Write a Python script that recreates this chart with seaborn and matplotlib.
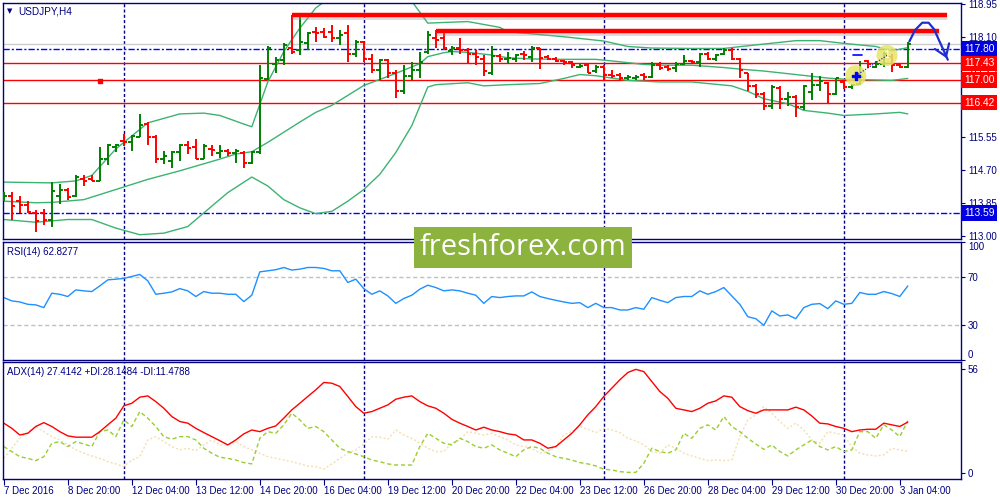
import numpy as np
import pandas as pd
import matplotlib
matplotlib.use("Agg")
import matplotlib.pyplot as plt
import matplotlib.transforms as mtransforms
from matplotlib.patches import Rectangle
import seaborn as sns

sns.set_style("white")
plt.rcParams['font.family'] = ['Liberation Sans', 'DejaVu Sans']

# USDJPY H4 bars (7 Dec 2016 - 3 Jan 2017)
opens = [113.93, 114.02, 113.89, 113.80, 113.59, 113.59, 113.42, 114.02, 114.19, 114.02,
         114.45, 114.45, 114.42, 114.97, 115.27, 115.44, 115.42, 115.55, 115.87, 115.55,
         114.98, 114.92, 115.14, 115.34, 115.27, 114.98, 115.24, 115.12, 115.18, 115.12,
         115.12, 114.88, 115.14, 117.02, 117.42, 117.51, 117.81, 117.77, 117.94, 118.24,
         118.24, 118.24, 118.07, 118.20, 117.68, 117.98, 117.55, 117.25, 117.51, 117.19,
         116.73, 117.11, 117.25, 117.73, 118.07, 118.07, 117.74, 117.81, 117.77, 117.68,
         117.55, 117.17, 117.62, 117.54, 117.55, 117.68, 117.60, 117.83, 117.60, 117.55,
         117.48, 117.45, 117.34, 117.38, 117.23, 117.34, 117.14, 117.12, 117.04, 117.04,
         117.14, 117.08, 117.38, 117.34, 117.30, 117.42, 117.48, 117.45, 117.66, 117.55,
         117.68, 117.77, 117.54, 117.17, 116.85, 116.65, 116.33, 116.80, 116.52, 116.56,
         116.30, 116.69, 116.88, 116.93, 116.65, 116.95, 116.82, 116.91, 117.48, 117.34,
         117.42, 117.60, 117.38, 117.34]
highs = [114.12, 114.12, 114.02, 113.89, 113.67, 113.69, 114.38, 114.32, 114.23, 114.56,
         114.56, 114.55, 115.29, 115.37, 115.37, 115.61, 115.59, 116.13, 115.93, 115.60,
         115.18, 115.18, 115.36, 115.44, 115.48, 115.36, 115.33, 115.33, 115.23, 115.23,
         115.18, 115.18, 117.38, 117.86, 117.60, 117.94, 118.67, 118.61, 118.24, 118.37,
         118.33, 118.42, 118.29, 118.42, 118.03, 117.98, 117.68, 117.55, 117.55, 117.25,
         117.38, 117.45, 117.73, 118.26, 118.29, 118.20, 117.86, 118.07, 117.81, 117.77,
         117.64, 117.86, 117.68, 117.73, 117.68, 117.74, 117.87, 117.83, 117.64, 117.60,
         117.51, 117.48, 117.42, 117.42, 117.38, 117.38, 117.25, 117.19, 117.14, 117.12,
         117.19, 117.47, 117.45, 117.38, 117.45, 117.64, 117.51, 117.70, 117.73, 117.68,
         117.81, 117.81, 117.57, 117.19, 116.91, 116.69, 116.88, 116.85, 116.69, 116.61,
         116.88, 117.19, 117.11, 116.95, 117.05, 116.99, 116.91, 117.48, 117.51, 117.48,
         117.73, 117.68, 117.40, 117.98]
lows = [113.89, 113.42, 113.59, 113.59, 113.11, 113.29, 113.24, 113.83, 113.93, 114.00,
        114.28, 114.41, 114.41, 114.82, 115.16, 115.31, 115.17, 115.53, 115.34, 114.86,
        114.84, 114.73, 114.91, 115.10, 114.97, 114.97, 115.05, 115.01, 115.05, 114.86,
        114.75, 114.84, 115.10, 116.99, 117.19, 117.38, 117.66, 117.64, 117.77, 117.98,
        118.07, 117.98, 117.90, 117.47, 117.60, 117.47, 117.17, 116.99, 117.04, 116.54,
        116.65, 116.99, 117.04, 117.68, 117.81, 117.77, 117.64, 117.68, 117.42, 117.38,
        117.11, 117.12, 117.45, 117.42, 117.47, 117.51, 117.47, 117.27, 117.51, 117.45,
        117.38, 117.30, 117.30, 117.17, 117.19, 116.99, 117.04, 116.99, 116.99, 116.99,
        116.99, 117.04, 117.25, 117.23, 117.21, 117.38, 117.40, 117.34, 117.51, 117.48,
        117.64, 117.51, 117.05, 116.71, 116.54, 116.22, 116.26, 116.26, 116.33, 116.05,
        116.22, 116.48, 116.73, 116.42, 116.61, 116.76, 116.78, 116.88, 117.30, 117.30,
        117.34, 117.21, 117.30, 117.32]
closes = [114.02, 113.76, 113.78, 113.61, 113.37, 113.42, 114.15, 114.17, 114.00, 114.52,
          114.41, 114.42, 114.97, 115.34, 115.34, 115.40, 115.57, 115.85, 115.55, 114.98,
          115.05, 115.14, 115.34, 115.25, 114.98, 115.31, 115.21, 115.18, 115.12, 115.18,
          114.88, 115.16, 117.04, 117.81, 117.51, 117.90, 117.73, 117.97, 118.20, 118.20,
          118.10, 118.07, 118.16, 117.68, 117.98, 117.55, 117.25, 117.51, 117.19, 116.73,
          117.11, 117.25, 117.47, 118.16, 118.03, 117.81, 117.83, 117.77, 117.68, 117.60,
          117.23, 117.62, 117.55, 117.57, 117.64, 117.64, 117.83, 117.57, 117.55, 117.48,
          117.45, 117.38, 117.36, 117.19, 117.34, 117.12, 117.11, 117.05, 117.08, 117.08,
          117.08, 117.38, 117.30, 117.28, 117.40, 117.48, 117.45, 117.66, 117.55, 117.64,
          117.77, 117.55, 117.25, 116.85, 116.65, 116.33, 116.82, 116.52, 116.56, 116.30,
          116.85, 116.88, 116.97, 116.65, 117.04, 116.82, 116.88, 117.08, 117.40, 117.42,
          117.68, 117.38, 117.34, 117.92]

# Bollinger bands read at selected bars
bb_up_idx = [0, 6, 9, 11, 14, 18, 22, 25, 27, 30, 31, 33, 35, 37, 39, 41, 44, 47, 51, 53,
             58, 62, 63, 70, 75, 78, 81, 86, 90, 94, 99, 102, 105, 109, 111, 113]
bb_up = [114.38, 114.36, 114.41, 114.55, 115.23, 115.90, 116.13, 116.15, 116.09, 115.87,
         115.80, 116.95, 117.73, 118.33, 118.85, 119.15, 119.50, 119.40, 119.02, 118.46,
         118.50, 118.35, 118.24, 118.11, 118.00, 117.86, 117.82, 117.81, 117.81, 117.90,
         118.01, 118.01, 117.94, 117.86, 117.75, 117.83]
bb_mid_idx = [0, 4, 6, 10, 14, 18, 22, 27, 29, 31, 33, 35, 37, 39, 41, 45, 49, 52, 53, 55,
              56, 58, 61, 63, 66, 70, 74, 76, 80, 82, 86, 90, 92, 95, 99, 103, 105, 111, 113]
bb_mid = [113.89, 113.85, 113.86, 113.93, 114.19, 114.45, 114.67, 114.97, 115.10, 115.16,
          115.40, 115.66, 115.92, 116.17, 116.35, 116.86, 117.17, 117.42, 117.60, 117.70,
          117.73, 117.71, 117.64, 117.57, 117.54, 117.53, 117.53, 117.49, 117.40, 117.38,
          117.38, 117.32, 117.28, 117.23, 117.14, 117.05, 117.02, 116.99, 117.04]
bb_low_idx = [0, 4, 8, 11, 14, 17, 20, 23, 25, 28, 31, 33, 35, 37, 39, 41, 43, 45, 47, 49,
              51, 53, 54, 58, 60, 63, 67, 70, 72, 74, 78, 82, 86, 91, 93, 95, 98, 100, 103, 105,
              109, 112, 113]
bb_low = [113.42, 113.35, 113.42, 113.42, 113.20, 113.03, 113.07, 113.24, 113.59, 114.11,
          114.51, 114.28, 113.93, 113.72, 113.57, 113.63, 113.89, 114.19, 114.58, 115.14,
          115.83, 116.82, 116.88, 116.93, 116.85, 116.88, 116.91, 117.04, 117.14, 117.11,
          116.99, 116.95, 116.95, 116.85, 116.71, 116.52, 116.39, 116.22, 116.15, 116.09,
          116.13, 116.17, 116.13]

rsi = [52.9, 50.1, 49.2, 47.2, 46.7, 44.4, 56.6, 55.7, 53.8, 59.4, 58.6, 58.0, 62.8, 67.9,
       68.5, 69.1, 70.8, 72.5, 67.1, 55.7, 56.6, 57.7, 60.5, 58.6, 53.8, 58.0, 56.6, 56.6,
       55.7, 55.7, 49.5, 54.9, 74.7, 75.6, 76.5, 78.4, 76.2, 77.0, 78.4, 78.4, 77.6, 75.6,
       75.6, 65.7, 68.5, 60.5, 55.7, 58.6, 54.3, 48.0, 52.1, 54.9, 60.0, 63.4, 61.4, 58.6,
       59.4, 58.6, 56.6, 54.9, 48.0, 53.8, 52.9, 53.8, 54.3, 54.3, 57.7, 53.8, 52.1, 50.6,
       49.2, 48.0, 48.6, 44.4, 48.0, 44.4, 44.4, 42.4, 42.4, 44.4, 43.0, 52.9, 50.6, 48.6,
       52.9, 53.8, 53.8, 58.6, 55.7, 58.0, 61.4, 54.3, 47.2, 36.7, 35.0, 29.4, 41.6, 37.3,
       38.2, 35.0, 44.4, 47.2, 47.8, 43.5, 50.1, 47.2, 48.0, 57.2, 55.7, 55.7, 58.0, 56.3,
       53.8, 62.8]

adx = [26.8, 24.0, 20.4, 21.3, 25.0, 27.1, 25.0, 22.2, 19.9, 19.2, 19.2, 19.2, 22.2, 25.9,
       29.5, 36.2, 37.6, 40.9, 41.6, 38.5, 34.9, 30.4, 27.7, 26.8, 24.0, 21.7, 19.5, 17.3,
       15.0, 17.7, 21.0, 23.1, 22.2, 24.0, 25.3, 29.5, 34.0, 37.6, 41.3, 44.9, 48.9, 48.5,
       46.7, 41.3, 35.8, 32.2, 33.1, 34.9, 36.7, 39.8, 40.9, 41.6, 38.5, 36.2, 34.9, 32.2,
       28.9, 26.8, 25.0, 23.1, 24.6, 23.1, 22.2, 21.0, 20.4, 17.7, 17.7, 15.9, 13.2, 14.1,
       17.7, 21.3, 25.9, 31.3, 35.8, 41.3, 45.8, 50.3, 54.3, 56.0, 54.8, 49.4, 44.0, 40.3,
       34.9, 34.0, 33.1, 34.9, 37.6, 38.9, 41.6, 40.9, 35.8, 33.6, 32.2, 34.0, 34.0, 34.0,
       34.0, 35.5, 34.0, 30.7, 26.8, 26.4, 25.0, 24.0, 22.2, 23.1, 23.5, 23.5, 26.8, 25.9,
       25.0, 27.4]
plus_di = [14.1, 11.4, 8.6, 7.7, 6.5, 8.6, 15.9, 16.8, 14.1, 16.8, 15.5, 14.1, 22.2, 23.1,
           19.5, 28.6, 25.0, 33.1, 29.5, 25.0, 19.5, 18.1, 19.5, 19.5, 17.7, 13.2, 10.5, 8.3,
           7.7, 6.8, 5.4, 4.7, 18.6, 22.2, 21.3, 25.9, 32.2, 28.6, 24.0, 25.0, 22.2, 17.7,
           13.2, 11.4, 10.1, 8.6, 6.8, 5.9, 4.7, 4.1, 4.1, 4.1, 14.1, 21.3, 18.6, 15.9,
           15.0, 18.6, 16.8, 14.1, 13.2, 15.0, 12.3, 10.5, 8.6, 12.3, 14.1, 13.2, 10.5, 8.6,
           7.7, 6.8, 5.4, 4.7, 3.6, 1.8, 1.4, 0.5, 0.1, 0.1, 5.0, 13.2, 11.4, 10.5,
           12.3, 21.3, 18.6, 24.0, 25.9, 23.1, 30.4, 25.0, 22.2, 18.6, 15.5, 12.6, 15.0, 11.4,
           9.0, 12.3, 15.0, 17.7, 14.1, 12.3, 14.1, 11.4, 12.3, 22.2, 22.2, 18.6, 25.9, 23.1,
           19.5, 28.1]
minus_di = [7.7, 13.2, 18.6, 22.2, 25.0, 22.2, 19.5, 17.7, 15.0, 12.3, 10.5, 9.0, 7.7, 5.9,
            4.7, 3.2, 6.8, 8.6, 17.7, 19.5, 16.8, 14.1, 12.3, 13.2, 11.9, 15.0, 17.7, 15.0,
            15.0, 16.8, 14.1, 12.3, 10.5, 8.6, 7.7, 6.8, 5.9, 4.7, 3.6, 3.2, 1.8, 4.7,
            7.7, 10.5, 12.3, 15.5, 19.5, 19.2, 18.1, 23.1, 20.4, 18.6, 15.9, 13.2, 11.4, 11.4,
            15.9, 17.7, 22.2, 21.3, 20.4, 21.3, 19.5, 17.7, 15.0, 14.1, 13.2, 10.5, 11.4, 14.1,
            20.4, 22.2, 25.0, 23.5, 21.7, 24.0, 23.1, 21.7, 18.6, 17.2, 15.0, 11.4, 10.5, 15.0,
            13.2, 10.5, 9.0, 7.7, 6.5, 6.8, 6.5, 6.8, 19.5, 28.6, 31.3, 35.8, 32.2, 27.7,
            24.0, 26.8, 23.1, 17.7, 15.9, 22.2, 21.3, 20.4, 14.1, 10.5, 9.6, 9.0, 9.6, 13.2,
            12.3, 11.5]

tick_bars = [0, 8, 16, 24, 32, 40, 48, 56, 64, 72, 80, 88, 96, 104, 112]
tick_labels = ["7 Dec 2016", "8 Dec 20:00", "12 Dec 04:00", "13 Dec 12:00", "14 Dec 20:00",
               "16 Dec 04:00", "19 Dec 12:00", "20 Dec 20:00", "22 Dec 04:00", "23 Dec 12:00",
               "26 Dec 20:00", "28 Dec 04:00", "29 Dec 12:00", "30 Dec 20:00", "3 Jan 04:00"]
week_bars = [15, 45, 75, 105]
price_ticks = [118.95, 118.10, 117.25, 115.55, 114.70, 113.85, 113.00]

red_levels = [117.43, 117.00, 116.42]
blue_levels = [117.80, 113.59]
ask_level = 117.92
res_levels = [118.67, 118.27]
res_start = [36, 54]
res_end = [117.9, 116.9]

# drawn forecast arrow (bar, price)
arrow_x = [113.2, 113.9, 114.8, 115.6, 116.3, 116.9, 117.5, 118.0]
arrow_y = [117.99, 118.28, 118.47, 118.47, 118.30, 118.02, 117.75, 117.52]
trade_x = [106.5, 110.4]
trade_y = [117.11, 117.63]

NAVY = "#000080"
GREEN = "#008000"
RED = "#ff0000"
BAND = "#3cb371"

df = pd.DataFrame({"bar": np.arange(len(opens)), "open": opens, "high": highs,
                   "low": lows, "close": closes, "rsi": rsi, "adx": adx,
                   "pdi": plus_di, "mdi": minus_di})

fig = plt.figure(figsize=(10, 5), dpi=100)
fig.patch.set_facecolor("white")
ax = fig.add_axes([0.003, 0.522, 0.958, 0.472])
ax_rsi = fig.add_axes([0.003, 0.280, 0.958, 0.236])
ax_adx = fig.add_axes([0.003, 0.042, 0.958, 0.234])

for a in (ax, ax_rsi, ax_adx):
    a.set_xlim(-0.1, 119.65)
    for s in a.spines.values():
        s.set_color(NAVY)
        s.set_linewidth(1.0)
    for wb in week_bars:
        a.axvline(wb, color=NAVY, lw=1.0, ls=(0, (2.2, 1.6)), zorder=1)
    a.yaxis.tick_right()
    a.tick_params(axis="y", colors=NAVY, labelcolor=NAVY, labelsize=7, length=3,
                  direction="out", pad=2, right=True, left=False)

# ---- price panel ----
ax.set_ylim(112.92, 118.976)
ax.axhline(ask_level, color="#cccccc", lw=1.0, zorder=1)
for lv in red_levels:
    ax.axhline(lv, color=RED, lw=1.0, zorder=2)
for lv in blue_levels:
    ax.axhline(lv, color="#0000ff", lw=1.0, ls=(0, (4.5, 1.5, 1.5, 1.5)), zorder=2)

sns.lineplot(x=bb_up_idx, y=bb_up, color=BAND, lw=1.0, ax=ax, estimator=None)
sns.lineplot(x=bb_mid_idx, y=bb_mid, color=BAND, lw=1.0, ax=ax, estimator=None)
sns.lineplot(x=bb_low_idx, y=bb_low, color=BAND, lw=1.0, ax=ax, estimator=None)

up = df["close"] >= df["open"]
for mask, col in [(up, GREEN), (~up, RED)]:
    d = df[mask]
    ax.vlines(d["bar"], d["low"], d["high"], color=col, lw=1.4, zorder=4)
    ax.hlines(d["open"], d["bar"] - 0.42, d["bar"], color=col, lw=1.4, zorder=4)
    ax.hlines(d["close"], d["bar"], d["bar"] + 0.42, color=col, lw=1.4, zorder=4)

for lv, x0, x1 in zip(res_levels, res_start, res_end):
    ax.plot([x0, x1], [lv - 0.04, lv - 0.04], color="#999999", lw=5, alpha=0.35,
            solid_capstyle="butt", zorder=5)
    ax.plot([x0, x1], [lv, lv], color=RED, lw=3.2, solid_capstyle="butt", zorder=6)

ax.plot(arrow_x, arrow_y, color="#1f2fd0", lw=1.6, zorder=7, clip_on=False)
ax.annotate("", xy=(arrow_x[-1], arrow_y[-1] - 0.03), xytext=(arrow_x[-2], arrow_y[-2]),
            arrowprops=dict(arrowstyle="->,head_length=0.8,head_width=0.55",
                            color="#1f2fd0", lw=1.6), zorder=7)
ax.scatter(trade_x, trade_y, s=230, color="#e6e66a", alpha=0.85, edgecolor="none", zorder=5)
ax.plot(trade_x, trade_y, color="#0000ff", lw=0.8, ls=(0, (1, 1.5)), zorder=6)
ax.scatter([trade_x[0]], [trade_y[0]], marker="P", s=30, color="#0000ff", zorder=7)
ax.text(trade_x[1], trade_y[1], "1", color="white", fontsize=7, ha="center", va="center",
        zorder=7)
ax.plot([trade_x[0] - 0.4, trade_x[0] + 0.8], [117.63, 117.63], color="#0000ff", lw=1.2, zorder=6)
ax.scatter([12], [116.98], marker="s", s=5, color=RED, zorder=6)

ax.set_xticks([])
ax.set_yticks(price_ticks)
ax.set_yticklabels([f"{v:.2f}" for v in price_ticks])
ax.set_xlabel("")
ax.set_ylabel("")

trans = mtransforms.blended_transform_factory(ax.transAxes, ax.transData)
for lv in blue_levels:
    ax.text(1.003, lv, f"{lv:.2f}", transform=trans, color="white", fontsize=7.4,
            ha="left", va="center", clip_on=False, zorder=10,
            bbox=dict(boxstyle="square,pad=0.3", fc="#0000e0", ec="none"))
for lv in red_levels:
    ax.text(1.003, lv, f"{lv:.2f}", transform=trans, color="white", fontsize=7.4,
            ha="left", va="center", clip_on=False, zorder=10,
            bbox=dict(boxstyle="square,pad=0.25", fc=RED, ec="none"))

ax.text(0.004, 0.966, "\u25bc", transform=ax.transAxes, color=NAVY, fontsize=5,
        ha="left", va="center", family=["DejaVu Sans"])
ax.text(0.016, 0.966, "USDJPY,H4", transform=ax.transAxes, color=NAVY, fontsize=7.2,
        ha="left", va="center")

# ---- RSI panel ----
ax_rsi.set_ylim(0, 100)
for lv in (30, 70):
    ax_rsi.axhline(lv, color="#c0c0c0", lw=1.0, ls=(0, (3, 2)), zorder=1)
sns.lineplot(data=df, x="bar", y="rsi", color="#1e90ff", lw=1.0, ax=ax_rsi, estimator=None)
ax_rsi.set_xticks([])
ax_rsi.set_yticks([100, 70, 30, 0])
labs = ax_rsi.set_yticklabels(["100", "70", "30", "0"])
labs[0].set_va("top")
labs[3].set_va("bottom")
ax_rsi.set_xlabel("")
ax_rsi.set_ylabel("")
ax_rsi.text(0.004, 0.915, "RSI(14) 62.8277", transform=ax_rsi.transAxes, color=NAVY,
            fontsize=7, ha="left", va="center")

# ---- ADX panel ----
ax_adx.set_ylim(-3.5, 60.0)
sns.lineplot(data=df, x="bar", y="mdi", color="#f5deb3", lw=1.0, ls=(0, (1.5, 1.5)),
             ax=ax_adx, estimator=None)
sns.lineplot(data=df, x="bar", y="pdi", color="#9acd32", lw=1.0, ls=(0, (3, 2)),
             ax=ax_adx, estimator=None)
sns.lineplot(data=df, x="bar", y="adx", color=RED, lw=1.0, ax=ax_adx, estimator=None)
ax_adx.set_yticks([56, 0])
ax_adx.set_yticklabels(["56", "0"])
ax_adx.set_xlabel("")
ax_adx.set_ylabel("")
ax_adx.set_xticks(tick_bars)
ax_adx.set_xticklabels(tick_labels)
ax_adx.tick_params(axis="x", colors=NAVY, labelcolor=NAVY, labelsize=7, length=4,
                   direction="out", pad=1, bottom=True)
for t in ax_adx.get_xticklabels():
    t.set_ha("left")
ax_adx.text(0.004, 0.915, "ADX(14) 27.4142 +DI:28.1484 -DI:11.4788",
            transform=ax_adx.transAxes, color=NAVY, fontsize=7, ha="left", va="center")

# ---- watermark ----
fig.patches.append(Rectangle((0.414, 0.464), 0.218, 0.082, transform=fig.transFigure,
                             facecolor="#8db33f", edgecolor="none", zorder=20))
fig.text(0.523, 0.505, "freshforex.com", color="white", fontsize=21, ha="center",
         va="center", family=["Open Sans", "DejaVu Sans"], zorder=21)

fig.savefig("out.png", dpi=100, facecolor="white")
